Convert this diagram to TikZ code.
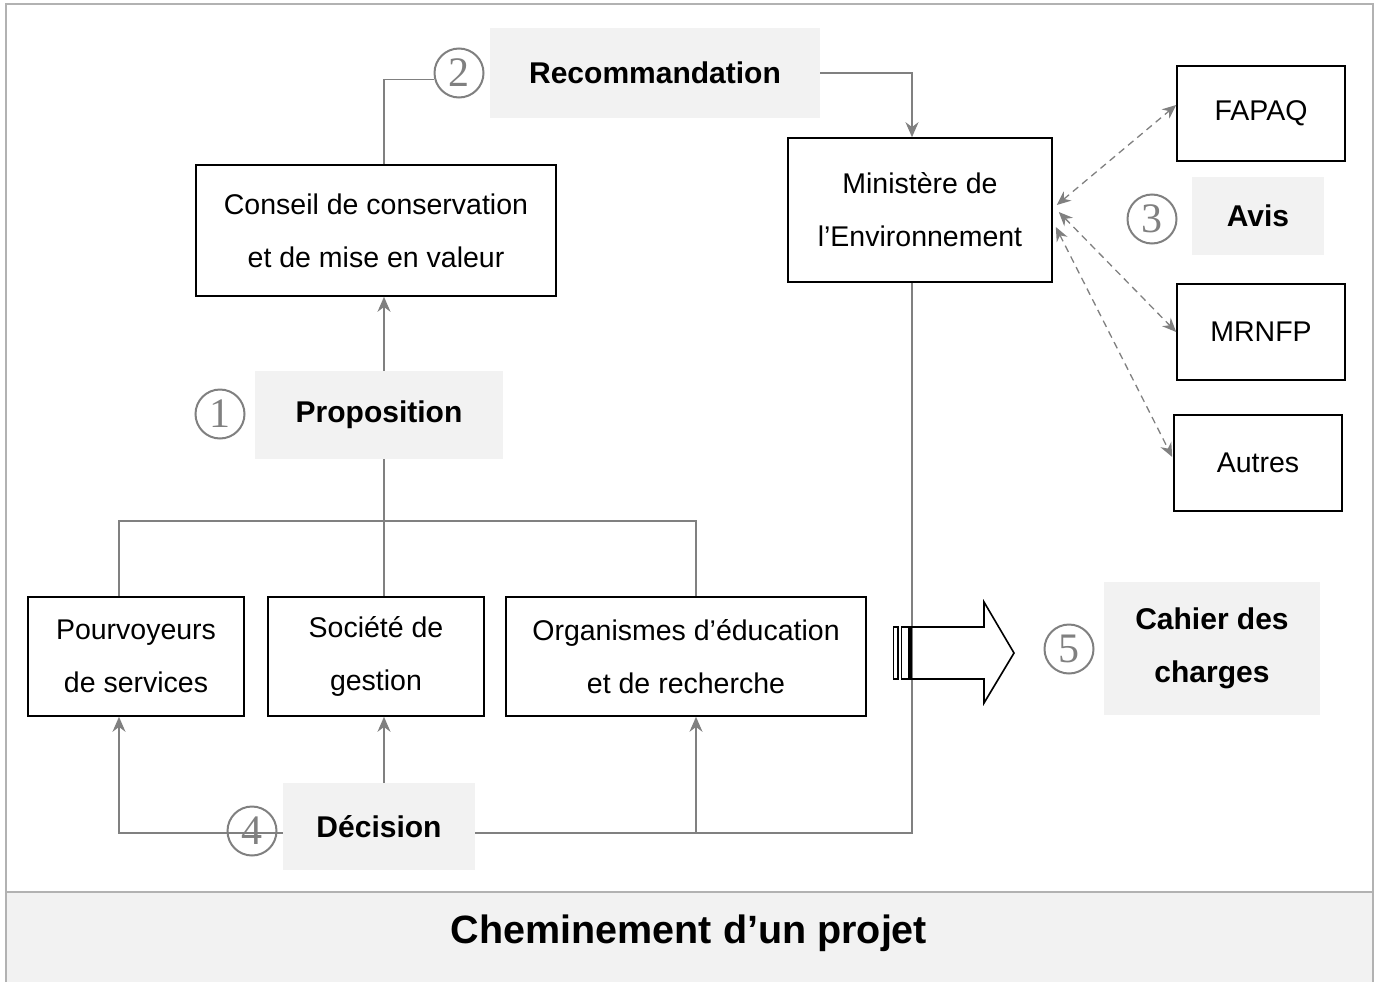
\documentclass[tikz,border=0pt]{standalone}
\usepackage{fontspec}
\setmainfont{Liberation Sans}
\newfontfamily\numfont{Liberation Serif}
\usetikzlibrary{arrows.meta}

\begin{document}
\begin{tikzpicture}[x=1pt,y=-1pt,
    box/.style={draw,line width=1.6pt,align=center,inner sep=0pt,
      font=\fontsize{28.5}{53}\selectfont},
    tag/.style={fill=gray!10,align=center,inner sep=0pt,
      font=\fontsize{30}{53}\selectfont\bfseries},
    numc/.style={circle,draw=gray,line width=2pt,minimum size=49pt,inner sep=0pt,
      text=gray,font=\fontsize{42}{42}\selectfont\numfont},
    link/.style={draw=gray,line width=1.6pt},
    arr/.style={-{Stealth[length=15pt,width=13pt]}},
    dlink/.style={draw=gray,line width=1.3pt,dash pattern=on 7pt off 5pt,
      {Stealth[length=14pt,width=12pt]}-{Stealth[length=14pt,width=12pt]}}]
  \useasboundingbox (0,0) rectangle (1380,982);
  % frame and title bar
  \fill[gray!10] (6,892) rectangle (1373,982);
  \draw[gray!60,line width=2.2pt] (6,982) |- (1373,4) -- (1373,982);
  \draw[gray!60,line width=2.2pt] (6,892) -- (1373,892);
  \node[font=\fontsize{39.5}{42}\selectfont\bfseries] (title) at (689,933) {Cheminement d’un projet};

  % boxes
  \node[box,minimum width=360pt,minimum height=131pt] (conseil) at (376,230.5)
    {\raisebox{-6pt}{Conseil de conservation}\\\raisebox{-6pt}{et de mise en valeur}};
  \node[box,minimum width=264pt,minimum height=144pt] (ministere) at (920,210)
    {Ministère de\\l’Environnement};
  \node[box,minimum width=168pt,minimum height=95pt] (fapaq) at (1261,113.5) {FAPAQ};
  \node[box,minimum width=168pt,minimum height=96pt] (mrnfp) at (1261,332) {MRNFP};
  \node[box,minimum width=168pt,minimum height=96pt] (autres) at (1258,463) {Autres};
  \node[box,minimum width=216pt,minimum height=119pt] (pourv) at (136,656.5)
    {Pourvoyeurs\\de services};
  \node[box,minimum width=216pt,minimum height=119pt] (societe) at (376,656.5)
    {Société de\\gestion};
  \node[box,minimum width=360pt,minimum height=119pt] (organ) at (686,656.5)
    {Organismes d’éducation\\et de recherche};

  % labels
  \node[tag,minimum width=330pt,minimum height=90pt] (recomm) at (655,73) {Recommandation};
  \node[tag,minimum width=132pt,minimum height=78pt] (avis) at (1258,216) {Avis};
  \node[tag,minimum width=248pt,minimum height=88pt] (propos) at (379,415) {Proposition};
  \node[tag,minimum width=192pt,minimum height=87pt] (decision) at (379,826.5) {Décision};
  \node[tag,minimum width=216pt,minimum height=133pt] (cahier) at (1212,648.5)
    {Cahier des\\charges};

  \node[numc] (c1) at (220,414) {1};
  \node[numc] (c2) at (459,73) {2};
  \node[numc] (c3) at (1152,219) {3};
  \node[numc] (c4) at (252,831) {4};
  \node[numc] (c5) at (1069,649) {5};

  % connectors
  \coordinate (fork) at (384,521);
  \coordinate (dj) at (696,833);
  \draw[link] ([xshift=8]conseil.north) |- (c2.195);
  \draw[link,arr] (recomm.east) -| ([xshift=-8]ministere.north);
  \draw[link,arr] ([xshift=5]propos.north) -- ([xshift=8]conseil.south);
  \draw[link] ([xshift=5]propos.south) -- (fork);
  \draw[link] ([xshift=-17]pourv.north) |- ([xshift=10]organ.north |- fork)
    -- ([xshift=10]organ.north);
  \draw[link] ([xshift=8]societe.north) -- (fork);
  \draw[link] ([xshift=-8]ministere.south) |- ([yshift=-6.5pt]decision.east);
  \draw[link,arr] ([yshift=-6.5pt]decision.west) -| ([xshift=-17]pourv.south);
  \draw[link,arr] ([xshift=5]decision.north) -- ([xshift=8]societe.south);
  \draw[link,arr] (dj) -- ([xshift=10]organ.south);

  \draw[dlink] ([xshift=4pt,yshift=5pt]ministere.east) -- ([yshift=8.5pt]fapaq.west);
  \draw[dlink] ([xshift=6pt,yshift=-2pt]ministere.east) -- (mrnfp.west);
  \draw[dlink] ([xshift=3pt,yshift=-17pt]ministere.east) -- ([xshift=-1pt,yshift=6pt]autres.west);

  % big arrow
  \draw[line width=1.6pt,line join=miter] (911,627) -- (984,627) -- (984,602) -- (1014,653)
    -- (984,703) -- (984,679) -- (911,679) -- cycle;
  \draw[line width=1.6pt] (893.5,627) rectangle (898,679);
  \draw[line width=1.6pt] (901.5,627) rectangle (909,679);
\end{tikzpicture}
\end{document}
